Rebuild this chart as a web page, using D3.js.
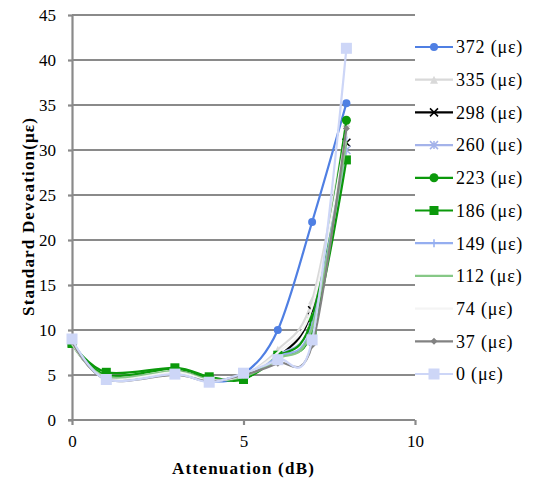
<!DOCTYPE html>
<meta charset="utf-8">
<style>
    body { margin: 0; background: #fff; }
    svg text { font-family: "Liberation Serif", "Times New Roman", Times, Tinos, serif; }
    .grid line { stroke: #8a8a8a; stroke-width: 2.2px; }
    .axis path, .axis line { stroke: #8a8a8a; stroke-width: 2.2px; }
    .axis text { font-size: 17px; fill: #000; }
    .title { font-size: 17px; font-weight: bold; fill: #000; }
    .legend text { font-size: 18px; fill: #000; letter-spacing: 0.8px; }
</style>
<svg width="540" height="480"></svg>
<script src="https://d3js.org/d3.v7.min.js"></script>
<script>
    // attenuation steps (dB)
    var atten = [0, 1, 3, 4, 5, 6, 7, 8];

    var xTicks = [0, 5, 10];
    var yTicks = [0, 5, 10, 15, 20, 25, 30, 35, 40, 45];

    // standard deviation per strain level
    var s372 = [8.7, 4.7, 5.3, 4.3, 5.1, 10.0, 22.0, 35.2];
    var s335 = [8.8, 4.7, 5.3, 4.4, 5.0, 7.8, 13.3, 33.0];
    var s298 = [8.6, 4.6, 5.4, 4.5, 4.9, 7.0, 12.2, 30.8];
    var s260 = [8.8, 4.6, 5.3, 4.4, 5.0, 7.2, 11.0, 30.0];
    var s223 = [8.5, 5.0, 5.7, 4.7, 4.6, 7.0, 11.3, 33.3];
    var s186 = [8.5, 5.3, 5.8, 4.8, 4.5, 7.2, 9.8, 28.9];
    var s149 = [8.9, 4.6, 5.2, 4.3, 5.1, 7.0, 10.5, 31.5];
    var s112 = [8.4, 4.8, 5.4, 4.5, 4.8, 6.8, 10.2, 31.0];
    var s74 = [8.6, 4.6, 5.3, 4.4, 5.0, 7.5, 12.5, 32.0];
    var s37 = [8.7, 4.5, 5.0, 4.3, 5.0, 6.3, 8.3, 32.4];
    var s0 = [9.0, 4.5, 5.1, 4.2, 5.2, 6.7, 8.9, 41.3];

    var labels = ["372 (με)", "335 (με)", "298 (με)", "260 (με)", "223 (με)", "186 (με)",
        "149 (με)", "112 (με)", "74 (με)", "37 (με)", "0 (με)"];

    var series = [
        { name: labels[0], values: s372, color: "#4f7fe3", marker: "circle", size: 4 },
        { name: labels[1], values: s335, color: "#d9d9d9", marker: "triangle", size: 4 },
        { name: labels[2], values: s298, color: "#000000", marker: "cross", size: 4 },
        { name: labels[3], values: s260, color: "#a4b3ea", marker: "star", size: 4 },
        { name: labels[4], values: s223, color: "#0b990b", marker: "circle", size: 4.5 },
        { name: labels[5], values: s186, color: "#0b990b", marker: "square", size: 4.5 },
        { name: labels[6], values: s149, color: "#95aef0", marker: "plus", size: 4 },
        { name: labels[7], values: s112, color: "#86c886", marker: "dash", size: 4 },
        { name: labels[8], values: s74, color: "#f4f4f4", marker: "dash", size: 4 },
        { name: labels[9], values: s37, color: "#828282", marker: "diamond", size: 3.5 },
        { name: labels[10], values: s0, color: "#cdd6f7", marker: "square", size: 5.5 }
    ];

    var svg = d3.select("svg"),
        margin = { top: 15, right: 125, bottom: 60, left: 72 },
        width = 415 - margin.left,
        height = 420 - margin.top,
        g = svg.append("g").attr("transform", "translate(" + margin.left + "," + margin.top + ")");

    var x = d3.scaleLinear().domain([0, 10]).range([0, width]),
        y = d3.scaleLinear().domain([0, 45]).range([height, 0]);

    // horizontal grid
    g.append("g")
        .attr("class", "grid")
        .selectAll("line")
        .data(yTicks.slice(1))
        .enter().append("line")
        .attr("x1", 0).attr("x2", width)
        .attr("y1", d => y(d)).attr("y2", d => y(d));

    g.append("g")
        .attr("class", "axis axis--x")
        .attr("transform", "translate(0," + height + ")")
        .call(d3.axisBottom(x).tickValues(xTicks).tickSize(5).tickPadding(8).tickSizeOuter(0))
        .call(a => a.select(".domain").attr("d", "M-4,0H" + width));

    g.append("g")
        .attr("class", "axis axis--y")
        .call(d3.axisLeft(y).tickValues(yTicks).tickSize(4).tickPadding(12).tickSizeOuter(0));

    g.selectAll(".axis").attr("font-family", null).attr("font-size", null);
    g.selectAll(".axis--x text").attr("dy", "0.85em");

    svg.append("text")
        .attr("class", "title")
        .attr("x", 243)
        .attr("y", 474)
        .attr("text-anchor", "middle")
        .attr("textLength", 142)
        .text("Attenuation (dB)");

    svg.append("text")
        .attr("class", "title")
        .attr("transform", "translate(34,217) rotate(-90)")
        .attr("text-anchor", "middle")
        .attr("textLength", 198)
        .text("Standard Deveation(με)");

    var line = d3.line()
        .curve(d3.curveCardinal.tension(0))
        .x((d, i) => x(atten[i]))
        .y(d => y(d));

    function drawMarker(sel, s, cx, cy) {
        var r = s.size;
        var m = sel.append("g").attr("transform", "translate(" + cx + "," + cy + ")");
        if (s.marker === "circle") {
            m.append("circle").attr("r", r).attr("fill", s.color);
        } else if (s.marker === "square") {
            m.append("rect").attr("x", -r).attr("y", -r).attr("width", 2 * r).attr("height", 2 * r).attr("fill", s.color);
        } else if (s.marker === "diamond") {
            m.append("path").attr("d", `M0,${-r}L${r},0L0,${r}L${-r},0Z`).attr("fill", s.color);
        } else if (s.marker === "triangle") {
            m.append("path").attr("d", `M0,${-r}L${r},${r}L${-r},${r}Z`).attr("fill", s.color);
        } else if (s.marker === "cross") {
            m.append("path").attr("d", `M${-r},${-r}L${r},${r}M${r},${-r}L${-r},${r}`).attr("stroke", s.color).attr("stroke-width", 1.5);
        } else if (s.marker === "star") {
            m.append("path").attr("d", `M${-r},${-r}L${r},${r}M${r},${-r}L${-r},${r}M0,${-r}V${r}`).attr("stroke", s.color).attr("stroke-width", 1.5);
        } else if (s.marker === "plus") {
            m.append("path").attr("d", `M0,${-r}V${r}`).attr("stroke", s.color).attr("stroke-width", 1.5);
        }
    }

    var seriesG = g.selectAll(".series")
        .data(series)
        .enter().append("g")
        .attr("class", "series");

    seriesG.append("path")
        .attr("fill", "none")
        .attr("stroke", d => d.color)
        .attr("stroke-width", 2.2)
        .attr("d", d => line(d.values));

    seriesG.each(function(s) {
        var sel = d3.select(this);
        s.values.forEach(function(v, i) {
            drawMarker(sel, s, x(atten[i]), y(v));
        });
    });

    // legend
    var legendY = d3.scalePoint().domain(labels).range([47, 374]);

    var legend = svg.append("g").attr("class", "legend")
        .selectAll("g")
        .data(series)
        .enter().append("g")
        .attr("transform", d => "translate(415," + legendY(d.name) + ")");

    legend.append("line")
        .attr("x1", 0).attr("x2", 38)
        .attr("stroke", d => d.color)
        .attr("stroke-width", 2.2);

    legend.each(function(s) {
        drawMarker(d3.select(this), s, 19, 0);
    });

    legend.append("text")
        .attr("x", 41)
        .attr("dy", "0.35em")
        .text(d => d.name);
</script>
